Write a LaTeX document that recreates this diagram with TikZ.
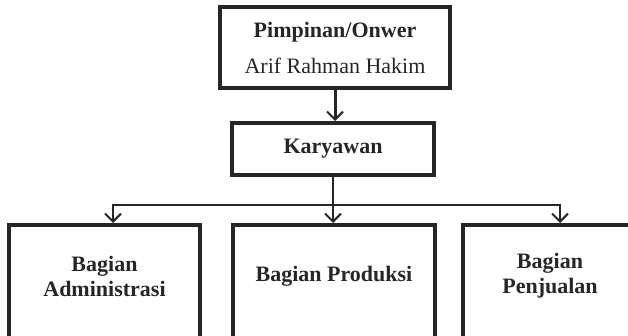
\documentclass[tikz,border=0pt]{standalone}
\usepackage{fontspec}
\setmainfont{Liberation Serif}
\usetikzlibrary{arrows.meta}
\definecolor{ink}{HTML}{262626}

\begin{document}
\begin{tikzpicture}[x=1pt,y=1pt,
    box/.style={draw=ink,line width=4pt,text=ink,align=center,font=\fontsize{22}{25}\selectfont},
    lbl/.style={text=ink,align=center,font=\fontsize{22}{25}\selectfont\bfseries},
    arr/.style={draw=ink,line width=2pt,-{Straight Barb[length=8pt,width=16pt,line width=2pt]}}]
    \useasboundingbox (0,0) rectangle (628,-336);
    \clip (0,0) rectangle (628,-336);
    \node[box,minimum width=230,minimum height=81] (own) at (335,-47.5) {\textbf{Pimpinan/Onwer}\\[11pt]Arif Rahman Hakim};
    \node[box,minimum width=202,minimum height=52,font=\fontsize{22}{25}\selectfont\bfseries] (kar) at (333,-149) {Karyawan};
    \node[box,minimum width=191,minimum height=130,anchor=north] (adm) at (104.5,-223) {};
    \node[box,minimum width=202,minimum height=130,anchor=north] (prod) at (334,-223) {};
    \node[box,minimum width=174,minimum height=130,anchor=north] (jual) at (550,-223) {};
    \node[lbl] (admT) at (104.5,-276) {Bagian\\Administrasi};
    \node[lbl] (prodT) at (334,-276) {Bagian Produksi};
    \node[lbl] (jualT) at (550,-276) {Bagian\\Penjualan};
    \draw[arr,line width=3pt] (own) -- (own |- kar.north);
    \coordinate (split) at (333,-205);
    \draw[arr] (kar) -- (kar |- prod.north);
    \draw[arr] (split) -| ([xshift=8.5pt]adm.north);
    \draw[arr] (split) -| ([xshift=10pt]jual.north);
\end{tikzpicture}
\end{document}
